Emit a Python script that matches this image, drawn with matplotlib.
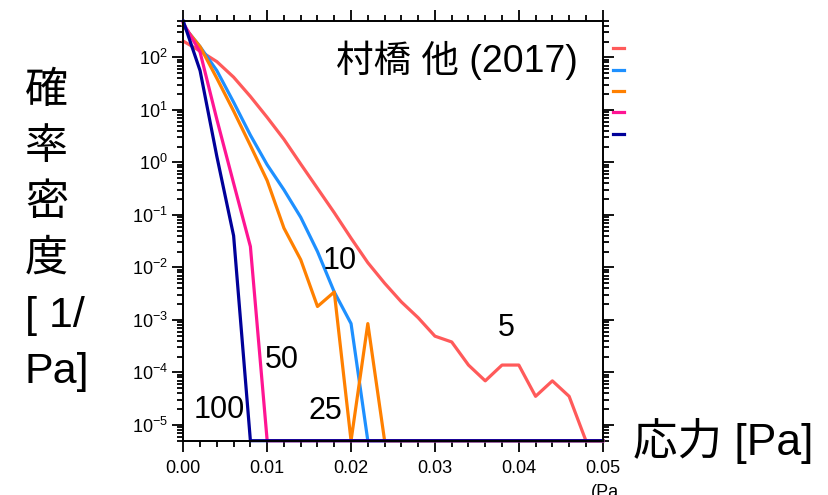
import matplotlib
matplotlib.use("Agg")
import numpy as np
import matplotlib.pyplot as plt
from matplotlib.lines import Line2D
from matplotlib.ticker import LogLocator, MultipleLocator, NullFormatter, FormatStrFormatter

plt.rcParams["font.family"] = ["Liberation Sans", "Noto Sans CJK JP", "DejaVu Sans"]
plt.rcParams["mathtext.fontset"] = "custom"
plt.rcParams["mathtext.rm"] = "Liberation Sans"

# stress bins [Pa], every 0.002 from 0 to 0.05
stress = np.arange(26) * 0.002

# probability density [1/Pa]; 0 = below plot floor
pdf_5 = [204, 132, 83, 42, 18, 7.2, 2.75, 0.93, 0.32, 0.11, 0.036, 0.0123,
         0.005, 0.0022, 0.0011, 4.9e-4, 3.8e-4, 1.38e-4, 6.9e-5, 1.38e-4,
         1.38e-4, 3.5e-5, 6.9e-5, 3.5e-5, 0]
pdf_10 = [400, 160, 56, 14, 3.3, 0.9, 0.3, 0.09, 0.02, 0.0034, 0.00085, 0]
pdf_25 = [400, 160, 40, 9.5, 2.1, 0.45, 0.056, 0.014, 0.0018, 0.0034, 0,
          0.00085, 0]
pdf_50 = [450, 126, 6.6, 0.4, 0.025, 0]
pdf_100 = [490, 56, 1.3, 0.04, 0]

series = ["5", "10", "25", "50", "100"]
values = [pdf_5, pdf_10, pdf_25, pdf_50, pdf_100]
colors = ["#ff5a5a", "#1e90ff", "#ff8000", "#ff1493", "#000099"]
# where each curve's label sits (stress, density)
label_pos = [(0.0385, 6.9e-4), (0.0187, 0.013), (0.0169, 1.8e-5),
             (0.0117, 1.7e-4), (0.0043, 1.9e-5)]

ymin, ymax = 5e-6, 500

fig = plt.figure(figsize=(8.29, 4.95), dpi=100)
ax = fig.add_axes([0.2211, 0.1097, 0.5059, 0.8485])

handles = []
for name, v, c in zip(series, values, colors):
    y = np.zeros(len(stress))
    y[:len(v)] = v
    y = np.clip(y, ymin, None)
    ax.plot(stress, y, color=c, lw=2.3, clip_on=False)
    handles.append(Line2D([], [], color=c, lw=2.3))

for name, (lx, ly) in zip(series, label_pos):
    ax.text(lx, ly, name, fontsize=22, ha="center", va="center")

ax.set_yscale("log")
ax.set_xlim(0, 0.05)
ax.set_ylim(ymin, ymax)
ax.yaxis.set_major_locator(LogLocator(base=10, numticks=20))
ax.yaxis.set_minor_locator(LogLocator(base=10, subs=np.arange(2, 10), numticks=20))
ax.yaxis.set_minor_formatter(NullFormatter())
ax.xaxis.set_major_locator(MultipleLocator(0.01))
ax.xaxis.set_minor_locator(MultipleLocator(0.002))
ax.xaxis.set_major_formatter(FormatStrFormatter("%.2f"))

for s in ax.spines.values():
    s.set_linewidth(1.4)
ax.tick_params(which="both", direction="out", top=True, right=True, width=1.3,
               labelsize=13)
ax.tick_params(which="major", length=8)
ax.tick_params(which="minor", length=4.5)
ax.tick_params(axis="y", pad=3)
ax.tick_params(axis="x", pad=6)

ax.text(0.941, 0.906, "村橋 他 (2017)", transform=ax.transAxes, fontsize=27,
        ha="right", va="center")

leg = ax.legend(handles, [""] * len(handles), loc="upper left",
                bbox_to_anchor=(1.012, 0.962), frameon=False, fontsize=10,
                handlelength=0.75, handletextpad=0, labelspacing=0.53,
                borderaxespad=0)

fig.text(25 / 829, 1 - 232 / 495, "確\n率\n密\n度\n[ 1/\nPa]", fontsize=31,
         ha="left", va="center", linespacing=1.52)
fig.text(633 / 829, 1 - 441 / 495, "応力 [Pa]", fontsize=32, ha="left",
         va="center")
fig.text(591 / 829, 1 - 484 / 495, "(Pa", fontsize=13, ha="left", va="top")

fig.savefig("out.png", dpi=100)
